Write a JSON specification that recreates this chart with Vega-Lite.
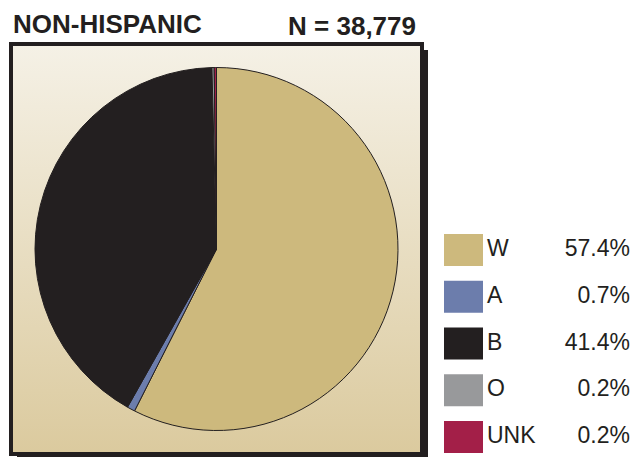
{
  "$schema": "https://vega.github.io/schema/vega-lite/v6.json",
  "background": "white",
  "padding": {"left": 9, "top": 12, "right": 0, "bottom": 0},
  "autosize": {"type": "pad"},
  "bounds": "flush",
  "spacing": 22,
  "title": {"text": "NON-HISPANIC", "anchor": "start", "font": "Liberation Sans", "fontSize": 26, "fontWeight": "bold", "color": "#231f20", "dx": 4, "dy": 24, "offset": 0},
  "config": {"view": {"stroke": null}},
  "datasets": {
    "race": [
      {"race": "W", "k": 1, "pct": 57.4, "label": "57.4%"},
      {"race": "A", "k": 2, "pct": 0.7, "label": "0.7%"},
      {"race": "B", "k": 3, "pct": 41.4, "label": "41.4%"},
      {"race": "O", "k": 4, "pct": 0.2, "label": "0.2%"},
      {"race": "UNK", "k": 5, "pct": 0.2, "label": "0.2%"}
    ]
  },
  "hconcat": [
    {
      "width": 411,
      "height": 410,
      "title": {"text": "N = 38,779", "anchor": "end", "frame": "group", "font": "Liberation Sans", "fontSize": 26, "fontWeight": "bold", "color": "#231f20", "dx": -6, "offset": 2},
      "layer": [
        {
          "data": {"values": [{"part": "shadow"}]},
          "mark": {"type": "rect", "fill": "#231f20", "xOffset": 6, "x2Offset": 6, "yOffset": 6, "y2Offset": 6},
          "encoding": {"x": {"value": 0}, "x2": {"value": "width"}, "y": {"value": 0}, "y2": {"value": "height"}}
        },
        {
          "data": {"values": [{"part": "box"}]},
          "mark": {
            "type": "rect",
            "stroke": "#231f20",
            "strokeWidth": 4,
            "fill": {"gradient": "linear", "x1": 0, "y1": 0, "x2": 0, "y2": 1, "stops": [{"offset": 0, "color": "#f5f1e6"}, {"offset": 1, "color": "#dbca9e"}]}
          },
          "encoding": {"x": {"value": 0}, "x2": {"value": "width"}, "y": {"value": 0}, "y2": {"value": "height"}}
        },
        {
          "data": {"name": "race"},
          "mark": {"type": "arc", "radius": 181.5, "stroke": "#231f20", "strokeWidth": 1},
          "encoding": {
            "theta": {"field": "pct", "type": "quantitative", "stack": true},
            "order": {"field": "k", "type": "quantitative"},
            "color": {
              "field": "race",
              "type": "nominal",
              "scale": {"domain": ["W", "A", "B", "O", "UNK"], "range": ["#cdb97d", "#6c7dac", "#231f20", "#98999b", "#a31f48"]},
              "legend": null
            }
          }
        }
      ]
    },
    {
      "width": 186,
      "height": 410,
      "data": {"name": "race"},
      "encoding": {
        "y": {"field": "race", "type": "nominal", "sort": ["W", "A", "B", "O", "UNK"], "axis": null, "scale": {"range": [190, 409], "paddingInner": 0.315, "paddingOuter": 0}}
      },
      "layer": [
        {
          "mark": {"type": "rect"},
          "encoding": {
            "x": {"value": 0},
            "x2": {"value": 39},
            "color": {"field": "race", "type": "nominal", "scale": {"domain": ["W", "A", "B", "O", "UNK"], "range": ["#cdb97d", "#6c7dac", "#231f20", "#98999b", "#a31f48"]}, "legend": null}
          }
        },
        {
          "mark": {"type": "text", "align": "left", "baseline": "middle", "font": "Liberation Sans", "fontSize": 23, "color": "#231f20", "dy": -1},
          "encoding": {"x": {"value": 43}, "text": {"field": "race"}}
        },
        {
          "mark": {"type": "text", "align": "right", "baseline": "middle", "font": "Liberation Sans", "fontSize": 23, "color": "#231f20", "dy": -1},
          "encoding": {"x": {"value": "width"}, "text": {"field": "label"}}
        }
      ]
    }
  ]
}
